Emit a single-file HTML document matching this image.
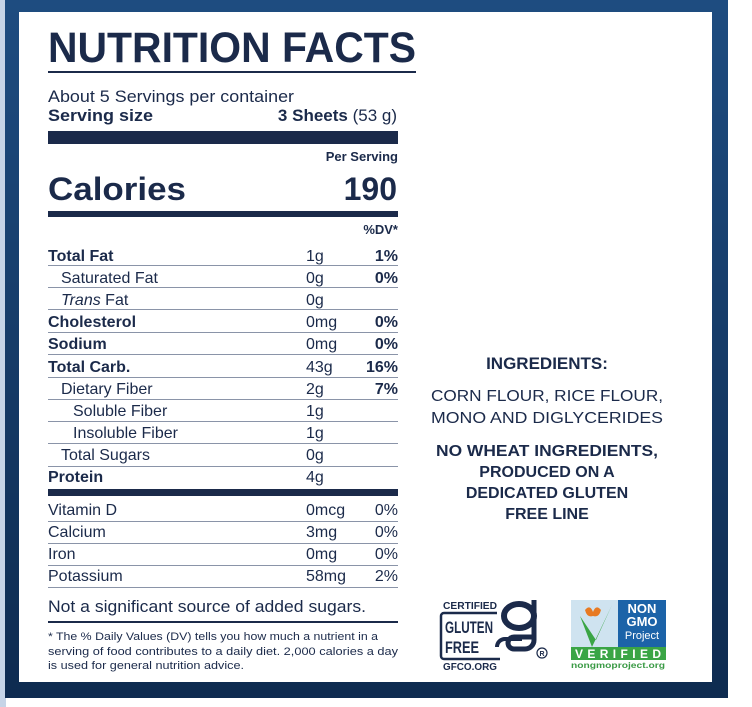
<!DOCTYPE html>
<html><head><meta charset="utf-8"><style>
html,body{margin:0;padding:0;background:#fff;width:752px;height:707px;overflow:hidden}
svg{display:block}
text{font-family:"Liberation Sans",sans-serif;fill:#1b2a4a}
.b{font-weight:bold}
</style></head><body>
<svg width="752" height="707" viewBox="0 0 752 707">
<defs><linearGradient id="bg" x1="0" y1="0" x2="0" y2="1"><stop offset="0" stop-color="#1e4c80"/><stop offset="1" stop-color="#0e2b50"/></linearGradient></defs>
<rect x="0" y="0" width="6" height="707" fill="#c6d4e7"/>
<rect x="5" y="0" width="723" height="698" fill="url(#bg)"/>
<rect x="19" y="12" width="693" height="670" fill="#fff"/>
<!-- title -->
<text x="48" y="62" class="b" font-size="43" textLength="368" lengthAdjust="spacingAndGlyphs">NUTRITION FACTS</text>
<rect x="48" y="71" width="368" height="2" fill="#1b2a4a"/>
<text x="48" y="102" font-size="17" textLength="246" lengthAdjust="spacingAndGlyphs">About 5 Servings per container</text>
<text x="48" y="121" font-size="17" class="b" textLength="105" lengthAdjust="spacingAndGlyphs">Serving size</text>
<text x="397" y="121" font-size="17" text-anchor="end"><tspan class="b">3 Sheets</tspan> (53 g)</text>
<rect x="48" y="131" width="350" height="13" fill="#1b2a4a"/>
<text x="398" y="161" font-size="13" class="b" text-anchor="end">Per Serving</text>
<text x="48" y="200" font-size="32" class="b" textLength="138" lengthAdjust="spacingAndGlyphs">Calories</text>
<text x="397" y="200" font-size="32" class="b" text-anchor="end">190</text>
<rect x="48" y="211" width="350" height="6" fill="#1b2a4a"/>
<text x="398" y="234" font-size="13" class="b" text-anchor="end">%DV*</text>
<g font-size="16">
<text x="48" y="261" class="b">Total Fat</text><text x="306" y="261">1g</text><text x="398" y="261" class="b" text-anchor="end">1%</text>
<text x="61" y="283">Saturated Fat</text><text x="306" y="283">0g</text><text x="398" y="283" class="b" text-anchor="end">0%</text>
<text x="61" y="305"><tspan font-style="italic">Trans</tspan> Fat</text><text x="306" y="305">0g</text>
<text x="48" y="327" class="b">Cholesterol</text><text x="306" y="327">0mg</text><text x="398" y="327" class="b" text-anchor="end">0%</text>
<text x="48" y="349" class="b">Sodium</text><text x="306" y="349">0mg</text><text x="398" y="349" class="b" text-anchor="end">0%</text>
<text x="48" y="372" class="b">Total Carb.</text><text x="306" y="372">43g</text><text x="398" y="372" class="b" text-anchor="end">16%</text>
<text x="61" y="394">Dietary Fiber</text><text x="306" y="394">2g</text><text x="398" y="394" class="b" text-anchor="end">7%</text>
<text x="73" y="416">Soluble Fiber</text><text x="306" y="416">1g</text>
<text x="73" y="438">Insoluble Fiber</text><text x="306" y="438">1g</text>
<text x="61" y="460">Total Sugars</text><text x="306" y="460">0g</text>
<text x="48" y="482" class="b">Protein</text><text x="306" y="482">4g</text>
<text x="48" y="515">Vitamin D</text><text x="306" y="515">0mcg</text><text x="398" y="515" text-anchor="end">0%</text>
<text x="48" y="537">Calcium</text><text x="306" y="537">3mg</text><text x="398" y="537" text-anchor="end">0%</text>
<text x="48" y="559">Iron</text><text x="306" y="559">0mg</text><text x="398" y="559" text-anchor="end">0%</text>
<text x="48" y="581">Potassium</text><text x="306" y="581">58mg</text><text x="398" y="581" text-anchor="end">2%</text>
</g>
<g fill="#8a94a8">
<rect x="48" y="265" width="350" height="1"/><rect x="48" y="287" width="350" height="1"/>
<rect x="48" y="309" width="350" height="1"/><rect x="48" y="332" width="350" height="1"/>
<rect x="48" y="354" width="350" height="1"/><rect x="48" y="377" width="350" height="1"/>
<rect x="48" y="399" width="350" height="1"/><rect x="48" y="421" width="350" height="1"/>
<rect x="48" y="443" width="350" height="1"/><rect x="48" y="466" width="350" height="1"/>
<rect x="48" y="521" width="350" height="1"/><rect x="48" y="543" width="350" height="1"/>
<rect x="48" y="565" width="350" height="1"/><rect x="48" y="587" width="350" height="1"/>
</g>
<rect x="48" y="489" width="350" height="7" fill="#1b2a4a"/>
<text x="48" y="612" font-size="17" textLength="318" lengthAdjust="spacingAndGlyphs">Not a significant source of added sugars.</text>
<rect x="48" y="621" width="350" height="2" fill="#1b2a4a"/>
<g font-size="11">
<text x="48" y="640" textLength="330" lengthAdjust="spacingAndGlyphs">* The % Daily Values (DV) tells you how much a nutrient in a</text>
<text x="48" y="655" textLength="350" lengthAdjust="spacingAndGlyphs">serving of food contributes to a daily diet. 2,000 calories a day</text>
<text x="48" y="669" textLength="196" lengthAdjust="spacingAndGlyphs">is used for general nutrition advice.</text>
</g>
<!-- ingredients -->
<g text-anchor="middle">
<text x="547" y="369" font-size="17" class="b">INGREDIENTS:</text>
<text x="547" y="401" font-size="16" textLength="232" lengthAdjust="spacingAndGlyphs">CORN FLOUR, RICE FLOUR,</text>
<text x="547" y="423" font-size="16" textLength="232" lengthAdjust="spacingAndGlyphs">MONO AND DIGLYCERIDES</text>
<text x="547" y="456" font-size="16" class="b" textLength="222" lengthAdjust="spacingAndGlyphs">NO WHEAT INGREDIENTS,</text>
<text x="547" y="477" font-size="16" class="b">PRODUCED ON A</text>
<text x="547" y="498" font-size="16" class="b">DEDICATED GLUTEN</text>
<text x="547" y="519" font-size="16" class="b">FREE LINE</text>
</g>
<!-- GF logo -->
<text x="443" y="609" font-size="10" class="b" textLength="54" lengthAdjust="spacingAndGlyphs">CERTIFIED</text>
<path d="M497 613 H444 a3 3 0 0 0 -3 3 V656 a3 3 0 0 0 3 3 H500" fill="none" stroke="#1b2a4a" stroke-width="2.5"/>
<text x="445" y="633" font-size="17" class="b" textLength="48" lengthAdjust="spacingAndGlyphs">GLUTEN</text>
<text x="445" y="653" font-size="17" class="b" textLength="34" lengthAdjust="spacingAndGlyphs">FREE</text>
<ellipse cx="519" cy="616" rx="15" ry="12" fill="none" stroke="#1b2a4a" stroke-width="6"/>
<path d="M534 600 V640 a9 9 0 0 1 -9 9 H514 a6 6 0 0 1 0 -12 H532" fill="none" stroke="#1b2a4a" stroke-width="5"/>
<path d="M497 647 a8 8 0 0 1 8 -8 H522" fill="none" stroke="#1b2a4a" stroke-width="4"/>
<text x="443" y="670" font-size="10" class="b" textLength="54" lengthAdjust="spacingAndGlyphs">GFCO.ORG</text>
<circle cx="542" cy="653" r="5" fill="none" stroke="#1b2a4a" stroke-width="1.2"/>
<text x="542" y="656" font-size="7" class="b" text-anchor="middle">R</text>
<!-- NON GMO logo -->
<rect x="571" y="600" width="48" height="48" fill="#cfe3f0"/>
<rect x="618" y="600" width="48" height="48" fill="#1c63a8"/>
<g fill="#fff" style="fill:#fff">
<text x="642" y="613" font-size="13" class="b" text-anchor="middle" style="fill:#fff">NON</text>
<text x="642" y="626" font-size="13" class="b" text-anchor="middle" style="fill:#fff">GMO</text>
<text x="642" y="639" font-size="11" text-anchor="middle" style="fill:#fff">Project</text>
</g>
<path d="M580 616 L592 647 L612 605 L596 640 Z" fill="#3aa545"/>
<path d="M585 610 q5 -6 8 2 q3 -8 8 -2 q-2 8 -8 6 q-6 2 -8 -6z" fill="#e87a22"/>
<rect x="571" y="647" width="95" height="13" fill="#3aa545"/>
<text x="618" y="658" font-size="12" class="b" text-anchor="middle" textLength="86" lengthAdjust="spacing" style="fill:#fff">VERIFIED</text>
<text x="618" y="668" font-size="8.5" class="b" text-anchor="middle" textLength="94" lengthAdjust="spacingAndGlyphs" style="fill:#3a9a45">nongmoproject.org</text>
</svg>
</body></html>
